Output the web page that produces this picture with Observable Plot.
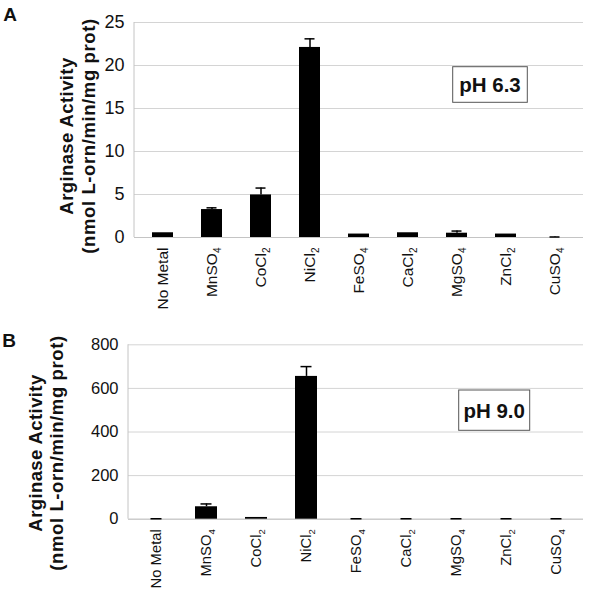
<!DOCTYPE html>
<html>
<head>
<meta charset="utf-8">
<script src="https://cdn.jsdelivr.net/npm/d3@7"></script>
<script src="https://cdn.jsdelivr.net/npm/@observablehq/plot@0.6"></script>
<style>
  body { margin: 0; background: #fff; }
  #chart { width: 600px; height: 590px; position: relative; font-family: "Liberation Sans", Arial, sans-serif; }
  #chart svg { display: block; overflow: visible; }
</style>
</head>
<body>
<div id="chart"></div>
<script>
const categories = ["No Metal", "MnSO4", "CoCl2", "NiCl2", "FeSO4", "CaCl2", "MgSO4", "ZnCl2", "CuSO4"];
const activityPH63 = [0.55, 3.25, 4.95, 22.1, 0.4, 0.55, 0.5, 0.4, 0.0];
const errorPH63 = [0, 0.2, 0.8, 1.0, 0, 0, 0.25, 0, 0.06];
const activityPH90 = [0, 57, 8, 655, 0, 0, 0, 0, 0];
const errorPH90 = [2, 13, 0, 45, 2, 2, 2, 2, 2];
const yTicksA = [0, 5, 10, 15, 20, 25];
const yTicksB = [0, 200, 400, 600, 800];
const panelLabels = ["A", "B"];
const phLabels = ["pH 6.3", "pH 9.0"];
const titleLine1 = "Arginase Activity";
const titleLine2 = "(nmol L-orn/min/mg prot)";

function makeRows(values, errors) {
  return categories.map((c, i) => ({cat: c, value: values[i], err: errors[i], top: values[i] + errors[i]}));
}

function panel(cfg) {
  const rows = makeRows(cfg.values, cfg.errors);
  const errRows = rows.filter(d => d.err > 0);
  const plot = Plot.plot({
    width: 600,
    height: cfg.height,
    marginTop: cfg.mt,
    marginBottom: cfg.mb,
    marginLeft: cfg.ml,
    marginRight: cfg.mr,
    style: {fontFamily: '"Liberation Sans", Arial, sans-serif', color: "#111", background: "transparent", overflow: "visible"},
    x: {domain: categories, paddingInner: 0.57, paddingOuter: 0.29, label: null},
    y: {domain: cfg.domain, label: null},
    marks: [
      Plot.gridY(cfg.ticks, {stroke: "#d4d4d4", strokeOpacity: 1}),
      Plot.ruleY([0], {stroke: "#c4c4c4"}),
      Plot.barY(rows, {x: "cat", y: "value", fill: "black"}),
      Plot.ruleX(errRows, {x: "cat", y1: "value", y2: "top", stroke: "black", strokeWidth: 1.5}),
      Plot.tickY(errRows, {x: "cat", y: "top", stroke: "black", strokeWidth: 1.5, insetLeft: 5.5, insetRight: 5.5}),
      Plot.axisX({tickRotate: -90, tickSize: 0, tickPadding: 10, label: null}),
      Plot.axisY({ticks: cfg.ticks, tickSize: 0, tickPadding: 10, label: null})
    ]
  });
  const svg = d3.select(plot);
  svg.selectAll('g[aria-label="x-axis tick label"]').style("font-size", cfg.xfs + "px");
  svg.selectAll('g[aria-label="y-axis tick label"]').style("font-size", cfg.yfs + "px");
  // subscripts on chemical formula tick labels
  svg.selectAll('g[aria-label="x-axis tick label"] text').each(function() {
    const t = d3.select(this);
    const s = t.text();
    const m = s.match(/^(.*?)(\d)$/);
    if (m) {
      t.text(null);
      t.append("tspan").text(m[1]);
      t.append("tspan").style("font-size", (cfg.xfs * 0.65) + "px").attr("dy", "0.35em").text(m[2]);
    }
  });
  // left axis line
  svg.append("line")
    .attr("x1", cfg.ml).attr("x2", cfg.ml)
    .attr("y1", cfg.mt).attr("y2", cfg.height - cfg.mb)
    .attr("stroke", "#c4c4c4");
  // y title
  const tg = svg.append("g").attr("font-weight", "bold").style("font-size", "18.5px").attr("fill", "#111").attr("text-anchor", "middle");
  tg.append("text").attr("transform", `translate(${cfg.t1x},${cfg.tcy}) rotate(-90)`).attr("letter-spacing", 0.4).text(titleLine1);
  tg.append("text").attr("transform", `translate(${cfg.t2x},${cfg.tcy}) rotate(-90)`).attr("letter-spacing", 0.6).text(titleLine2);
  // panel letter
  svg.append("text").attr("x", cfg.lx).attr("y", cfg.ly).attr("font-weight", "bold").style("font-size", "19px").attr("fill", "#111").text(cfg.letter);
  // pH box
  svg.append("rect").attr("x", cfg.box[0]).attr("y", cfg.box[1]).attr("width", cfg.box[2]).attr("height", cfg.box[3])
    .attr("fill", "white").attr("stroke", "#555").attr("stroke-width", 1);
  svg.append("text").attr("x", cfg.box[0] + cfg.box[2] / 2).attr("y", cfg.box[1] + cfg.box[3] / 2 + 7.5)
    .attr("text-anchor", "middle").attr("font-weight", "bold").style("font-size", "20.5px").attr("fill", "#111").text(cfg.ph);
  return plot;
}

const chart = document.getElementById("chart");
chart.appendChild(panel({
  values: activityPH63, errors: errorPH63, domain: [0, 25], ticks: yTicksA,
  height: 290, mt: 22, mb: 53, ml: 134, mr: 17, xfs: 15.5, yfs: 18,
  t1x: 73.2, t2x: 95.2, tcy: 136,
  letter: panelLabels[0], lx: 10, ly: 21,
  box: [452.7, 66.7, 74.6, 35.6], ph: phLabels[0]
}));
chart.appendChild(panel({
  values: activityPH90, errors: errorPH90, domain: [0, 800], ticks: yTicksB,
  height: 300, mt: 54.3, mb: 71.3, ml: 128, mr: 17, xfs: 14.8, yfs: 16.5,
  t1x: 41.5, t2x: 63.2, tcy: 163,
  letter: panelLabels[1], lx: 9, ly: 56.7,
  box: [458.7, 100, 71, 40.3], ph: phLabels[1]
}));
</script>
</body>
</html>
